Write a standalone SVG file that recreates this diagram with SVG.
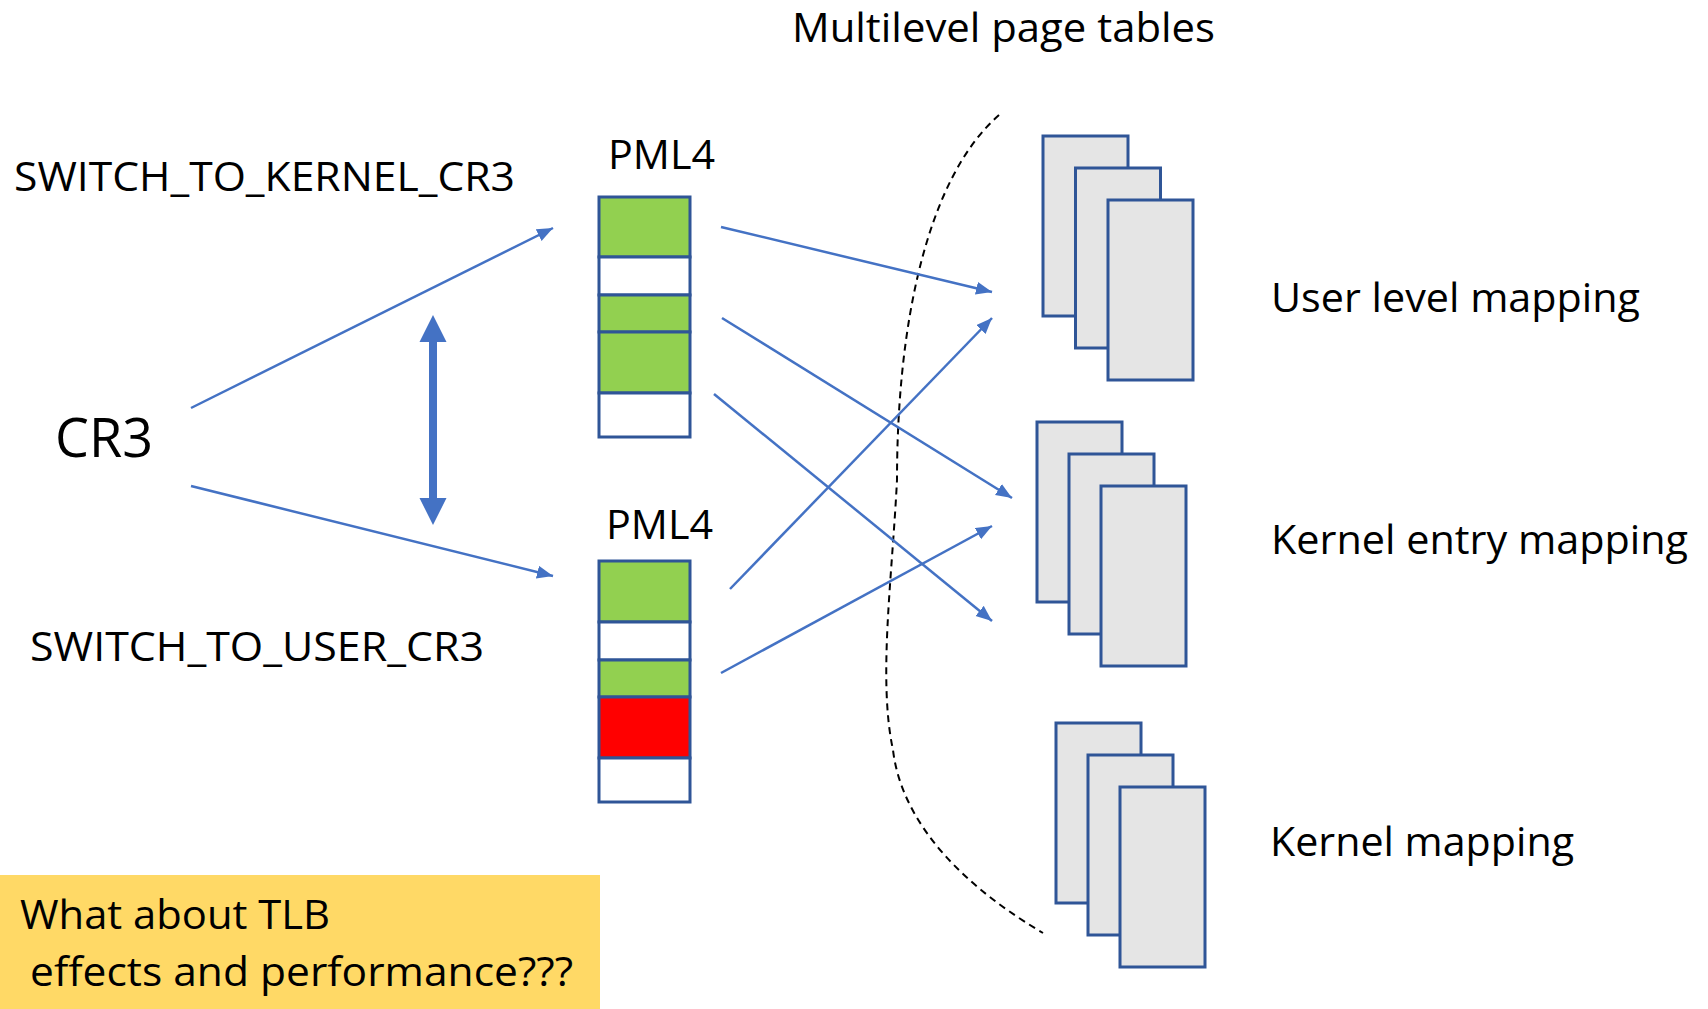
<svg xmlns="http://www.w3.org/2000/svg" width="1708" height="1009" viewBox="0 0 1708 1009">
<style>
text{font-family:"Open Sans","Liberation Sans",sans-serif;fill:#000}
.lbl{font-size:41px}
.g{fill:#92D050}
.w{fill:#FFFFFF}
.r{fill:#FF0000}
.row{stroke:#2F5597;stroke-width:3}
.pg{fill:#E5E5E5;stroke:#2F5597;stroke-width:3}
.con{stroke:#4472C4;stroke-width:2.5;fill:none;marker-end:url(#ah)}
</style>
<defs>
<marker id="ah" markerUnits="userSpaceOnUse" markerWidth="17" markerHeight="14" refX="16" refY="6.5" orient="auto">
<path d="M0,0 L16,6.5 L0,13 z" fill="#4472C4"/>
</marker>
</defs>
<rect width="1708" height="1009" fill="#FFFFFF"/>

<g id="title"><text class="lbl" x="792" y="42" textLength="423" lengthAdjust="spacingAndGlyphs">Multilevel page tables</text></g>

<g id="dashed-boundary"><path d="M999,115 C925,180 897,330 897,480 C892,580 878,680 893,750 C900,810 945,875 1043,933" fill="none" stroke="#000" stroke-width="2" stroke-dasharray="7 5"/></g>

<g id="switch-kernel"><text class="lbl" x="14" y="191" textLength="501" lengthAdjust="spacingAndGlyphs">SWITCH_TO_KERNEL_CR3</text></g>
<g id="cr3"><text x="55" y="457" font-size="55" textLength="98" lengthAdjust="spacingAndGlyphs">CR3</text></g>
<g id="switch-user"><text class="lbl" x="30" y="661" textLength="454" lengthAdjust="spacingAndGlyphs">SWITCH_TO_USER_CR3</text></g>

<g id="pml4-top">
<text class="lbl" x="608" y="169" textLength="107" lengthAdjust="spacingAndGlyphs">PML4</text>
<rect class="g row" x="599" y="197" width="91" height="60"/>
<rect class="w row" x="599" y="257" width="91" height="38"/>
<rect class="g row" x="599" y="295" width="91" height="37"/>
<rect class="g row" x="599" y="332" width="91" height="61"/>
<rect class="w row" x="599" y="393" width="91" height="44"/>
</g>

<g id="pml4-bottom">
<text class="lbl" x="606" y="539" textLength="107" lengthAdjust="spacingAndGlyphs">PML4</text>
<rect class="g row" x="599" y="561" width="91" height="61"/>
<rect class="w row" x="599" y="622" width="91" height="38"/>
<rect class="g row" x="599" y="660" width="91" height="37"/>
<rect class="r row" x="599" y="697" width="91" height="61"/>
<rect class="w row" x="599" y="758" width="91" height="44"/>
</g>

<g id="user-mapping">
<rect class="pg" x="1043" y="136" width="85" height="180"/>
<rect class="pg" x="1075.5" y="168" width="85" height="180"/>
<rect class="pg" x="1108" y="200" width="85" height="180"/>
<text class="lbl" x="1271" y="312" textLength="369" lengthAdjust="spacingAndGlyphs">User level mapping</text>
</g>

<g id="kernel-entry-mapping">
<rect class="pg" x="1037" y="422" width="85" height="180"/>
<rect class="pg" x="1069" y="454" width="85" height="180"/>
<rect class="pg" x="1101" y="486" width="85" height="180"/>
<text class="lbl" x="1271" y="554" textLength="417" lengthAdjust="spacingAndGlyphs">Kernel entry mapping</text>
</g>

<g id="kernel-mapping">
<rect class="pg" x="1056" y="723" width="85" height="180"/>
<rect class="pg" x="1088" y="755" width="85" height="180"/>
<rect class="pg" x="1120" y="787" width="85" height="180"/>
<text class="lbl" x="1270" y="856" textLength="304" lengthAdjust="spacingAndGlyphs">Kernel mapping</text>
</g>

<g id="tlb-note">
<rect x="0" y="875" width="600" height="134" fill="#FFD966"/>
<text class="lbl" x="20" y="929" textLength="310" lengthAdjust="spacingAndGlyphs">What about TLB</text>
<text class="lbl" x="30" y="986" textLength="543" lengthAdjust="spacingAndGlyphs">effects and performance???</text>
</g>

<g id="connectors">
<line class="con" x1="191" y1="408" x2="553" y2="228"/>
<line class="con" x1="191" y1="486" x2="553" y2="576"/>
<line class="con" x1="721" y1="227" x2="992" y2="292"/>
<line class="con" x1="722" y1="318" x2="1012" y2="498"/>
<line class="con" x1="714" y1="394" x2="992" y2="621"/>
<line class="con" x1="730" y1="589" x2="992" y2="318"/>
<line class="con" x1="721" y1="673" x2="992" y2="526"/>
<polygon points="433,315 446.5,342 437,342 437,498 446.5,498 433,525 419.5,498 429,498 429,342 419.5,342" fill="#4472C4"/>
</g>
</svg>
